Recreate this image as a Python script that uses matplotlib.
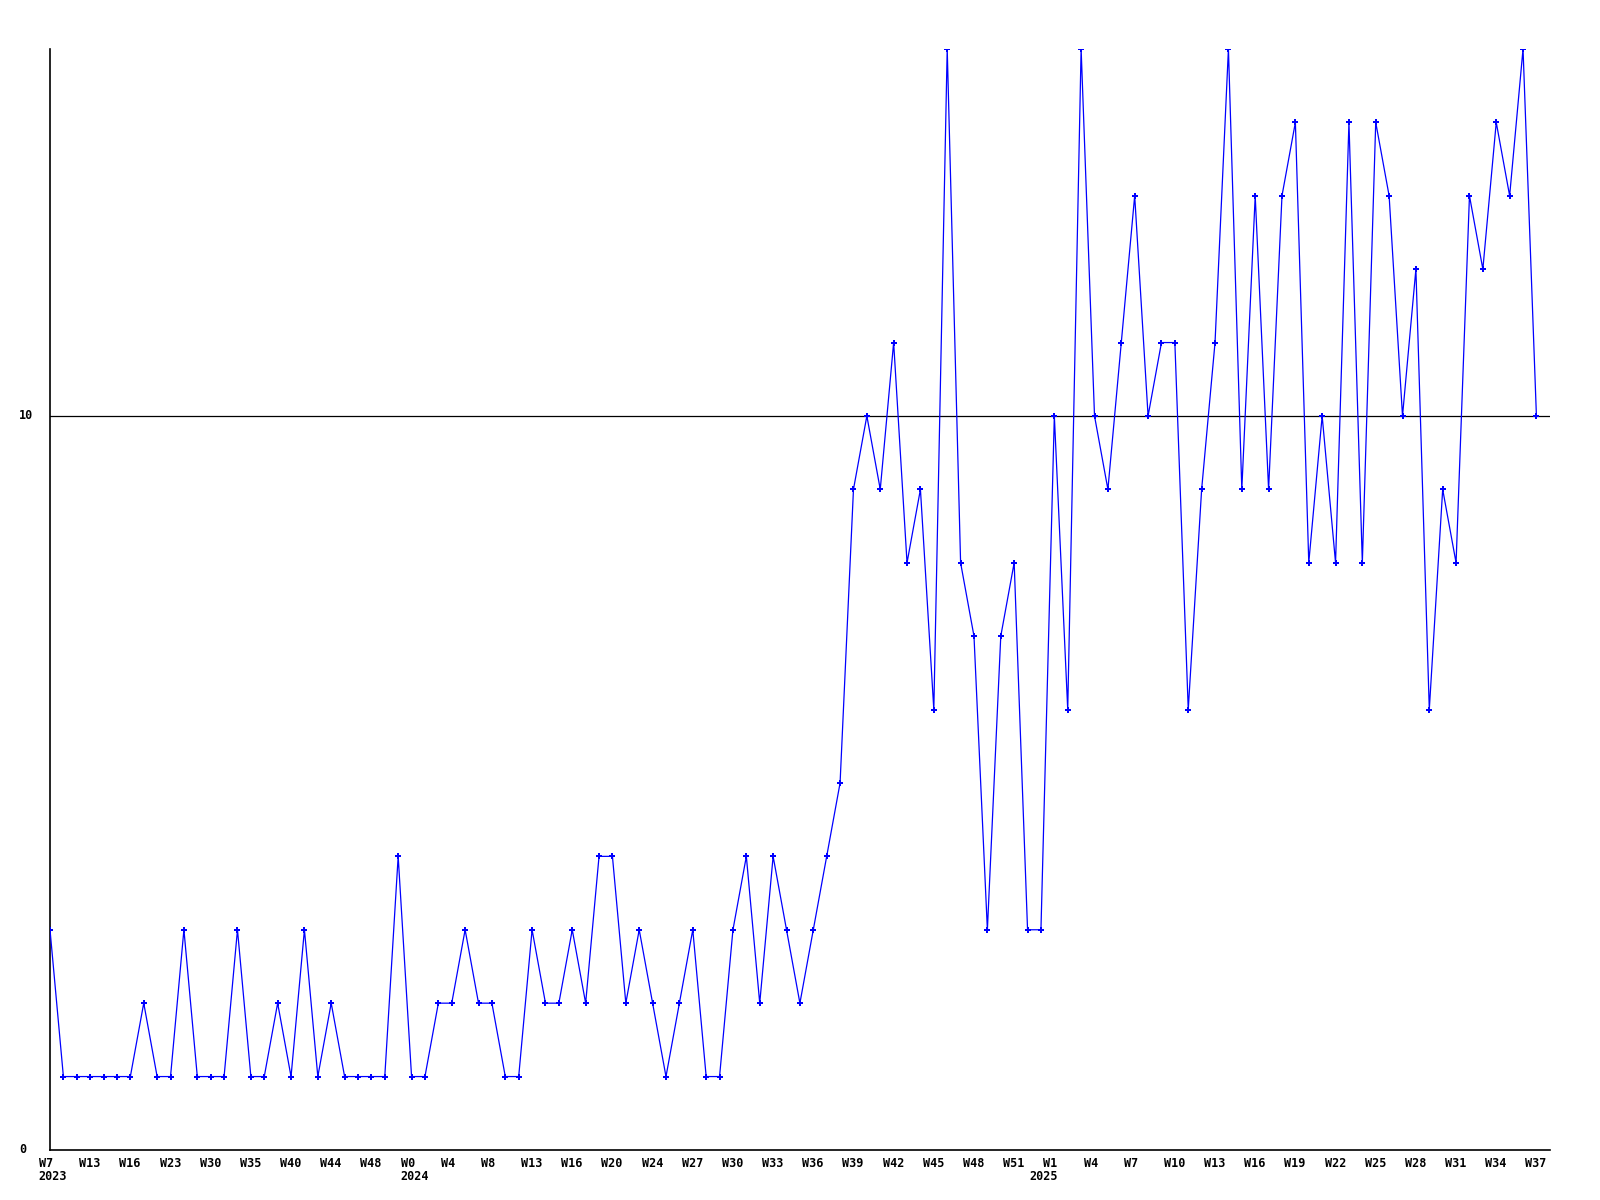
import matplotlib
matplotlib.use("Agg")
import matplotlib.pyplot as plt
import matplotlib.transforms as mtransforms

# weekly counts, W7 2023 .. W37 2025
values = [
    3, 1, 1, 1, 1, 1, 1, 2, 1, 1, 3, 1, 1, 1, 3, 1, 1, 2, 1, 3,
    1, 2, 1, 1, 1, 1, 4, 1, 1, 2, 2, 3, 2, 2, 1, 1, 3, 2, 2, 3,
    2, 4, 4, 2, 3, 2, 1, 2, 3, 1, 1, 3, 4, 2, 4, 3, 2, 3, 4, 5,
    9, 10, 9, 11, 8, 9, 6, 15, 8, 7, 3, 7, 8, 3, 3, 10, 6, 15, 10, 9,
    11, 13, 10, 11, 11, 6, 9, 11, 15, 9, 13, 9, 13, 14, 8, 10, 8, 14, 8, 14,
    13, 10, 12, 6, 9, 8, 13, 12, 14, 13, 15, 10,
]

# one label every third week
tick_labels = [
    "W7", "W13", "W16", "W23", "W30", "W35", "W40", "W44", "W48",
    "W0", "W4", "W8", "W13", "W16", "W20", "W24", "W27", "W30", "W33",
    "W36", "W39", "W42", "W45", "W48", "W51",
    "W1", "W4", "W7", "W10", "W13", "W16", "W19", "W22", "W25", "W28",
    "W31", "W34", "W37",
]
years = ["2023", "2024", "2025"]
year_at = [0.2, 27.2, 74.2]
y_labels = [0, 10]

x = list(range(len(values)))
tick_pos = x[::3]

fig = plt.figure(figsize=(16, 12), dpi=100)
ax = fig.add_axes([0.03125, 0.0417, 0.9378, 0.9175])

ax.axhline(10, color="black", linewidth=0.9, zorder=1)
ax.plot(x, values, color="#0000ff", linewidth=0.9, marker="P",
        markersize=4, markeredgewidth=0, zorder=3)

ax.set_xlim(0, 112.05)
ax.set_ylim(0, 15)

for side in ["top", "right"]:
    ax.spines[side].set_visible(False)
for side in ["left", "bottom"]:
    ax.spines[side].set_linewidth(1.2)
    ax.spines[side].set_color("black")

font = dict(fontfamily="DejaVu Sans Mono", fontweight="bold", fontsize=8.5)

ax.set_xticks(tick_pos)
ax.set_xticklabels(tick_labels, ha="left", **font)
ax.tick_params(axis="x", length=0, pad=5)
shift = mtransforms.ScaledTranslation(-11 / 100, 0, fig.dpi_scale_trans)
for lab in ax.get_xticklabels():
    lab.set_transform(lab.get_transform() + shift)
ax.set_yticks([])

# year line under the week labels
xtrans = mtransforms.blended_transform_factory(ax.transData, fig.transFigure)
for yr, pos in zip(years, year_at):
    ax.text(pos, 1 - 1177 / 1200, yr, transform=xtrans, ha="center",
            va="center", **font)

trans = mtransforms.blended_transform_factory(fig.transFigure, ax.transData)
for v in y_labels:
    ax.text(0.012, v, str(v), transform=trans, ha="left", va="center", **font)

fig.savefig("out.png", dpi=100)
